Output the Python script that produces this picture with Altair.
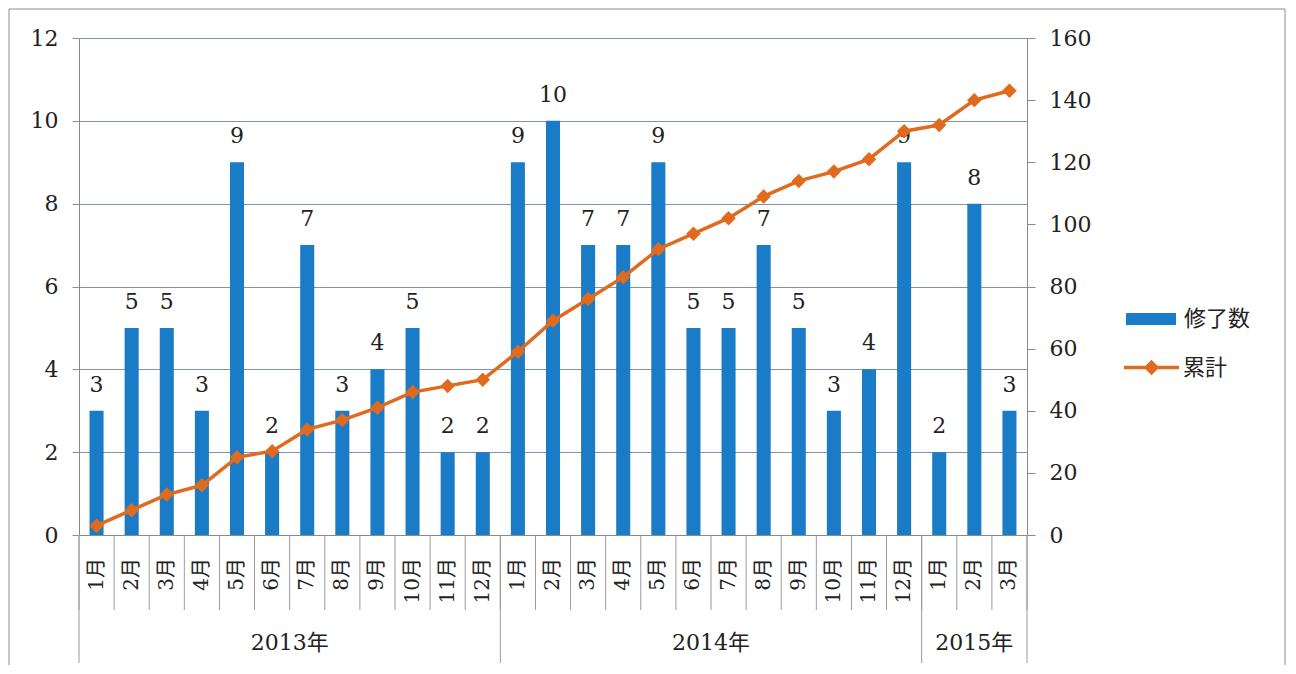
import altair as alt
import pandas as pd

months = ["1月", "2月", "3月", "4月", "5月", "6月", "7月", "8月", "9月", "10月", "11月", "12月",
          "1月", "2月", "3月", "4月", "5月", "6月", "7月", "8月", "9月", "10月", "11月", "12月",
          "1月", "2月", "3月"]
completed = [3, 5, 5, 3, 9, 2, 7, 3, 4, 5, 2, 2,
             9, 10, 7, 7, 9, 5, 5, 7, 5, 3, 4, 9,
             2, 8, 3]
cumulative = [3, 8, 13, 16, 25, 27, 34, 37, 41, 46, 48, 50,
              59, 69, 76, 83, 92, 97, 102, 109, 114, 117, 121, 130,
              132, 140, 143]
year_names = ["2013年", "2014年", "2015年"]
year_start = [0, 12, 24]
year_end = [12, 24, 27]
month_bounds = list(range(28))
year_bounds = [0, 12, 24, 27]
left_ticks = [0, 2, 4, 6, 8, 10, 12]
right_ticks = [0, 20, 40, 60, 80, 100, 120, 140, 160]

BLUE = "#1a7cc6"
ORANGE = "#e06b1f"
GRID = "#7f92b2"
SEP = "#9a9a9a"
SERIF = "DejaVu Serif, Noto Sans CJK JP"
CJK = "Noto Sans CJK JP"

W, H = 948, 497

df = pd.DataFrame({
    "idx": list(range(len(months))),
    "month": months,
    "completed": completed,
    "cumulative": cumulative,
    "s1": ["修了数"] * len(months),
    "s2": ["累計"] * len(months),
})
years_df = pd.DataFrame({"year": year_names, "start": year_start, "end": year_end})
mb_df = pd.DataFrame({"b": month_bounds})
yb_df = pd.DataFrame({"b": year_bounds})

xscale = alt.Scale(domain=[0, 27], nice=False, zero=False)
yl_scale = alt.Scale(domain=[0, 12], nice=False, padding=0)
yr_scale = alt.Scale(domain=[0, 160], nice=False, padding=0)

left_axis = alt.Axis(values=left_ticks, title=None, grid=True, gridColor=GRID, gridWidth=1,
                     tickColor=GRID, tickSize=7, domainColor="#8a8a8a", labelFont=SERIF,
                     labelFontSize=22, labelColor="#222", labelPadding=14)
right_axis = alt.Axis(orient="right", values=right_ticks, title=None, grid=False,
                      tickColor="#8a8a8a", tickSize=8, domainColor="#8a8a8a", labelFont=SERIF,
                      labelFontSize=22, labelColor="#222", labelPadding=14)

base = alt.Chart(df).transform_calculate(
    x0="datum.idx + 0.3", x1="datum.idx + 0.7", xc="datum.idx + 0.5", zero="0"
)

bars = base.mark_bar().encode(
    x=alt.X("x0:Q", scale=xscale, axis=alt.Axis(labels=False, ticks=False, grid=False,
                                                title=None, domainColor="#8a8a8a")),
    x2="x1:Q",
    y=alt.Y("completed:Q", scale=yl_scale, axis=left_axis),
    y2="zero:Q",
    fill=alt.Fill("s1:N", scale=alt.Scale(domain=["修了数"], range=[BLUE]),
                  legend=alt.Legend(orient="none", legendX=1047, legendY=256, title=None,
                                    padding=0, symbolType="M-1,-0.24H1V0.24H-1Z",
                                    symbolSize=2500, symbolStrokeWidth=0, labelFont=CJK,
                                    labelFontSize=22, labelColor="#222", labelOffset=8)),
)

bar_text = base.mark_text(baseline="alphabetic", dy=-19, font=SERIF, fontSize=22,
                          color="#222").encode(
    x=alt.X("xc:Q", scale=xscale),
    y=alt.Y("completed:Q", scale=yl_scale, axis=left_axis),
    text="completed:Q",
)

month_text = base.mark_text(angle=270, align="right", baseline="middle", font=SERIF,
                            fontSize=20, color="#222").encode(
    x=alt.X("xc:Q", scale=xscale),
    y=alt.value(H + 23),
    text="month:N",
)

month_sep = alt.Chart(mb_df).mark_rule(color=SEP, strokeWidth=1).encode(
    x=alt.X("b:Q", scale=xscale),
    y=alt.value(H),
    y2=alt.value(H + 75),
)
year_sep = alt.Chart(yb_df).mark_rule(color=SEP, strokeWidth=1).encode(
    x=alt.X("b:Q", scale=xscale),
    y=alt.value(H),
    y2=alt.value(H + 128),
)
year_text = alt.Chart(years_df).transform_calculate(
    mid="(datum.start + datum.end) / 2"
).mark_text(baseline="middle", font=SERIF, fontSize=22, color="#222").encode(
    x=alt.X("mid:Q", scale=xscale),
    y=alt.value(H + 108),
    text="year:N",
)

frame = alt.Chart(alt.Data(values=[{}])).mark_rect(fill=None, stroke="#8c8c8c",
                                                   strokeWidth=1).encode(
    x=alt.value(-70), x2=alt.value(1206), y=alt.value(-29), y2=alt.value(H + 200),
)

left = alt.layer(frame, month_sep, year_sep, bars, bar_text, month_text, year_text)

line = base.mark_line(color=ORANGE, strokeWidth=3.5).encode(
    x=alt.X("xc:Q", scale=xscale),
    y=alt.Y("cumulative:Q", scale=yr_scale, axis=right_axis),
)
pts = base.mark_point(shape="diamond", filled=True, size=210, opacity=1).encode(
    x=alt.X("xc:Q", scale=xscale),
    y=alt.Y("cumulative:Q", scale=yr_scale, axis=right_axis),
    color=alt.Color("s2:N", scale=alt.Scale(domain=["累計"], range=[ORANGE]),
                    legend=alt.Legend(orient="none", legendX=1045, legendY=302, title=None,
                                      padding=0,
                                      symbolType="M-1,-0.06H1V0.06H-1Z M0,-0.28L0.28,0L0,0.28L-0.28,0Z",
                                      symbolSize=3025, symbolStrokeWidth=0, labelFont=CJK,
                                      labelFontSize=22, labelColor="#222", labelOffset=4)),
)
right = alt.layer(line, pts)

chart = alt.layer(left, right).resolve_scale(
    y="independent", fill="independent", color="independent"
).properties(
    width=W, height=H,
    autosize=alt.AutoSizeParams(type="none"),
    padding={"left": 71, "top": 30, "right": 261, "bottom": 130},
).configure_view(stroke=None).configure(background="white")

chart.save("out.html", embed_options={"renderer": "svg", "actions": False})
